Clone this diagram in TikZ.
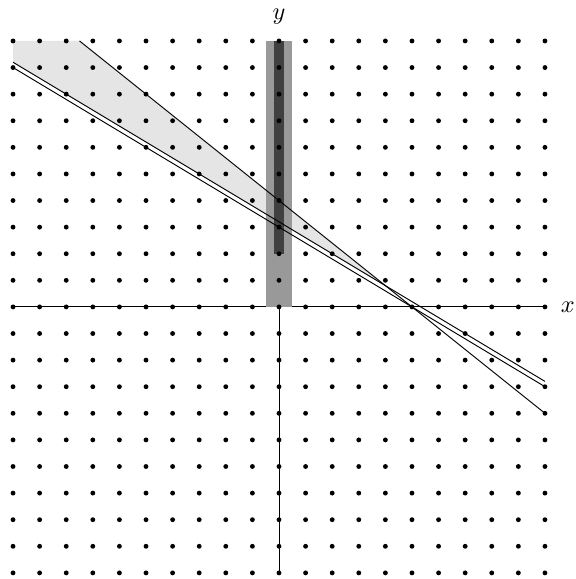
\documentclass[tikz,border=0pt]{standalone}
\begin{document}
\begin{tikzpicture}[x=0.5cm, y=0.5cm, line width=0.5pt]
    \useasboundingbox (-10.49,-10.23) rectangle (11.13,11.54);

    % Region between the two cuts
    \fill[black!10] (-10,10) -- (-7.5,10) -- (4,0.8) -- (-10,9.2) -- cycle;

    % Axes
    \draw (-10,0) -- (10,0);
    \draw (0,-10) -- (0,10);
    \node[scale=1.3] (xlab) at (10.86,0) {$x$};
    \node[scale=1.3] (ylab) at (0,10.93) {$y$};

    % Bars on the y axis
    \fill[black!40] (-0.5,0) rectangle (0.5,10);
    \fill[black!75] (-0.2,2) rectangle (0.2,10);

    % Lines
    \draw (-7.5,10) -- (10,-4);
    \draw (-10,9.2) -- (10,-2.8);
    \draw (-10,9) -- (10,-3);

    % Lattice points
    \foreach \i in {-10,...,10}
        \foreach \j in {-10,...,10}
            \fill (\i,\j) circle (1.3pt);
\end{tikzpicture}
\end{document}
